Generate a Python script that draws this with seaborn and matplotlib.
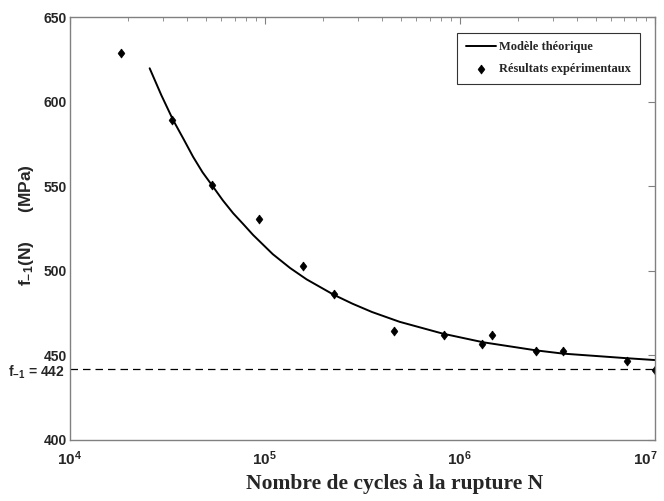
import numpy as np
import pandas as pd
import matplotlib
matplotlib.use("Agg")
import matplotlib.pyplot as plt
import matplotlib.transforms as mtransforms
from matplotlib.markers import MarkerStyle
from matplotlib.path import Path
import seaborn as sns

# experimental points
cycles = [1.83e4, 3.36e4, 5.35e4, 9.3e4, 1.57e5, 2.26e5, 4.6e5,
          8.3e5, 1.3e6, 1.47e6, 2.47e6, 3.4e6, 7.2e6, 1.0e7]
stress = [629, 589, 550.5, 530.5, 502.8, 486.2, 464.5,
          461.8, 456.8, 462, 452.5, 452.5, 446.8, 441.5]

# theoretical curve
model_cycles = [2.57e4, 2.95e4, 3.39e4, 3.85e4, 4.29e4, 4.8e4, 5.40e4, 6.1e4,
                6.89e4, 7.8e4, 8.71e4, 1.10e5, 1.35e5, 1.64e5, 2.26e5, 2.82e5,
                3.55e5, 4.92e5, 8.2e5, 1.32e6, 2.47e6, 3.39e6, 5.0e6, 7.16e6,
                1.0e7]
model_stress = [619.7, 603.8, 589.1, 577.5, 567.4, 558.2, 550.1, 541.6,
                534.0, 527.3, 521.2, 509.8, 501.6, 494.9, 485.8, 480.5,
                475.6, 469.8, 462.8, 457.7, 452.9, 451.0, 449.6, 448.3,
                447.2]

f_lim = 442

sns.set_style("white")
plt.rcParams["font.family"] = ["Liberation Sans", "DejaVu Sans"]
plt.rcParams["mathtext.fontset"] = "custom"
plt.rcParams["mathtext.rm"] = "Liberation Sans:bold"
plt.rcParams["mathtext.it"] = "Liberation Sans:bold"
plt.rcParams["mathtext.bf"] = "Liberation Sans:bold"
plt.rcParams["mathtext.default"] = "rm"

fig = plt.figure(figsize=(6.64, 5.01), dpi=100)
ax = fig.add_axes([0.105, 0.122, 0.881, 0.844])

model = pd.DataFrame({"N": model_cycles, "f": model_stress})
exp = pd.DataFrame({"N": cycles, "f": stress})

diamond = MarkerStyle(Path([(0, 1), (0.75, 0), (0, -1), (-0.75, 0), (0, 1)]))

sns.lineplot(data=model, x="N", y="f", color="black", linewidth=1.4,
             label="Modèle théorique", ax=ax)
sns.scatterplot(data=exp, x="N", y="f", marker=diamond, color="black", s=42,
                edgecolor="black", linewidth=0.5,
                label="Résultats expérimentaux", ax=ax)
ax.axhline(f_lim, color="black", linestyle=(0, (6, 4)), linewidth=0.9)

ax.set_xscale("log")
ax.set_xlim(1e4, 1e7)
ax.set_ylim(400, 650)
ax.set_yticks([400, 450, 500, 550, 600, 650])
ax.set_yticklabels(["400", "450", "500", "550", "600", "650"],
                   fontweight="bold", fontsize=10)
ax.set_xticks([1e4, 1e5, 1e6, 1e7])
ax.set_xticklabels([r"$10^{4}$", r"$10^{5}$", r"$10^{6}$", r"$10^{7}$"],
                   fontsize=11)

ax.tick_params(which="both", direction="in", top=True, right=True,
               color="#808080")
ax.tick_params(axis="y", pad=2)
ax.tick_params(axis="x", pad=7)
ax.tick_params(which="major", length=5)
ax.tick_params(which="minor", length=3)
for sp in ax.spines.values():
    sp.set_color("#808080")
    sp.set_linewidth(1.0)

ax.set_xlabel("Nombre de cycles à la rupture N", family="Liberation Serif",
              fontweight="bold", fontsize=15.5)
ax.xaxis.set_label_coords(0.556, -0.08)
ax.set_ylabel("f$_{-1}$(N)      (MPa)", fontweight="bold", fontsize=12.5)
ax.yaxis.set_label_coords(-0.058, 0.508)

ax.text(-0.008, f_lim, "f$_{-1}$ = 442",
        transform=ax.get_yaxis_transform() +
        mtransforms.ScaledTranslation(0, -3 / 100, fig.dpi_scale_trans),
        ha="right", va="center", fontweight="bold", fontsize=10)

leg = ax.legend(loc="upper right", bbox_to_anchor=(0.975, 0.963),
                prop={"family": "Liberation Serif", "weight": "bold", "size": 9},
                frameon=True, fancybox=False, handlelength=2.4,
                borderpad=0.7, labelspacing=0.8, handletextpad=0.3,
                borderaxespad=0)
leg.get_frame().set_edgecolor("black")
leg.get_frame().set_linewidth(0.8)

# pull the 10^7 label inside the canvas
fig.canvas.draw()
last = ax.xaxis.get_major_ticks()[-1].label1
last.set_transform(last.get_transform() +
                   mtransforms.ScaledTranslation(-9 / 100, 0, fig.dpi_scale_trans))

fig.savefig("out.png", dpi=100)
